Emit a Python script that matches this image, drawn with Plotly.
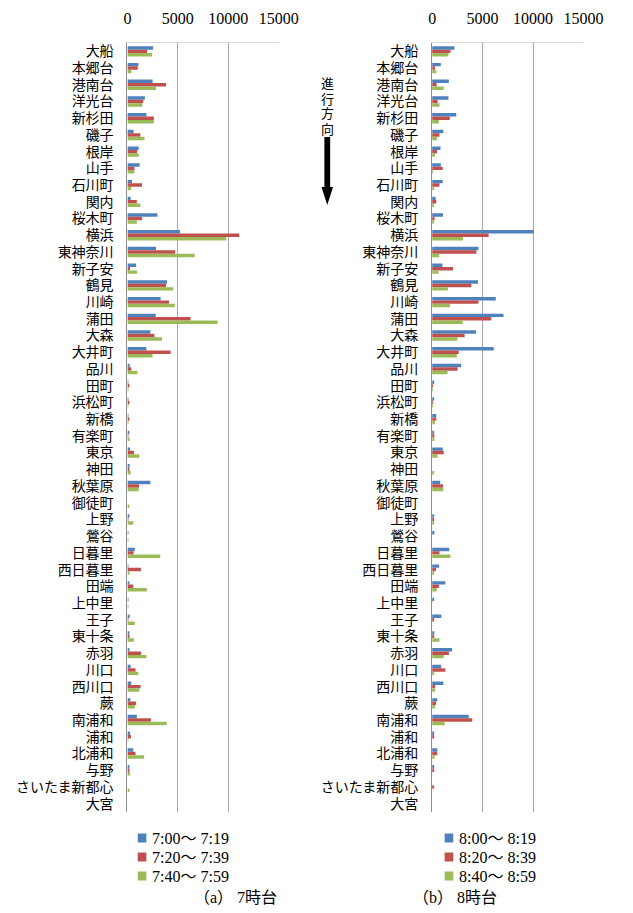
import plotly.graph_objects as go

W, H = 633, 913

stations = ["大船", "本郷台", "港南台", "洋光台", "新杉田", "磯子", "根岸", "山手", "石川町", "関内",
            "桜木町", "横浜", "東神奈川", "新子安", "鶴見", "川崎", "蒲田", "大森", "大井町", "品川",
            "田町", "浜松町", "新橋", "有楽町", "東京", "神田", "秋葉原", "御徒町", "上野", "鶯谷",
            "日暮里", "西日暮里", "田端", "上中里", "王子", "東十条", "赤羽", "川口", "西川口", "蕨",
            "南浦和", "浦和", "北浦和", "与野", "さいたま新都心", "大宮"]

# 7時台
h7_00 = [2550, 1090, 2490, 1730, 1880, 610, 1120, 1210, 450, 320,
         2970, 5210, 2840, 860, 3930, 3290, 2810, 2270, 1880, 220,
         30, 20, 20, 100, 260, 220, 2270, 0, 100, 20,
         730, 60, 160, 20, 220, 160, 160, 320, 380, 290,
         930, 260, 580, 190, 0, 0]
h7_20 = [1950, 1020, 3830, 1570, 2620, 1280, 960, 700, 1440, 930,
         1440, 11090, 4730, 260, 3830, 4120, 6260, 2680, 4280, 380,
         120, 190, 130, 20, 640, 100, 1150, 0, 20, 0,
         610, 1340, 580, 0, 60, 100, 1340, 800, 1310, 860,
         2330, 350, 800, 160, 0, 0]
h7_40 = [2450, 380, 2840, 1470, 2620, 1690, 1120, 700, 380, 1280,
         930, 9810, 6680, 960, 4540, 4700, 8950, 3420, 2490, 990,
         40, 20, 60, 220, 1180, 320, 1120, 100, 580, 60,
         3260, 220, 1920, 20, 730, 640, 1880, 1090, 1180, 730,
         3900, 60, 1660, 260, 130, 0]

# 8時台
h8_00 = [2200, 860, 1660, 1620, 2390, 1110, 830, 860, 1050, 350,
         1080, 10060, 4590, 1020, 4550, 6310, 7070, 4360, 6110, 2870,
         100, 100, 410, 130, 1050, 0, 800, 0, 100, 220,
         1690, 700, 1310, 130, 920, 220, 1970, 890, 1110, 510,
         3630, 160, 510, 160, 0, 0]
h8_20 = [1820, 290, 450, 540, 1750, 730, 480, 1050, 730, 410,
         250, 5600, 4390, 2070, 3890, 4590, 5860, 3220, 2640, 2520,
         20, 20, 410, 220, 1150, 0, 1080, 0, 160, 0,
         730, 380, 670, 0, 100, 100, 1660, 1310, 290, 380,
         3980, 130, 510, 130, 130, 0]
h8_40 = [1620, 410, 1150, 730, 670, 480, 290, 60, 190, 130,
         100, 3060, 700, 640, 1560, 1780, 3030, 2520, 2450, 1530,
         20, 20, 290, 220, 540, 100, 1110, 0, 130, 0,
         1820, 160, 450, 0, 0, 730, 1150, 100, 290, 290,
         1240, 0, 250, 0, 0, 0]

names7 = ["7:00～ 7:19", "7:20～ 7:39", "7:40～ 7:59"]
names8 = ["8:00～ 8:19", "8:20～ 8:39", "8:40～ 8:59"]
captions = ["（a） 7時台", "（b） 8時台"]
colors = ["#4F81BD", "#C0504D", "#9BBB59"]

FONT = "Liberation Serif, Noto Sans CJK JP, serif"


def px(x):
    return x / W


def py(y):
    return 1 - y / H


fig = go.Figure()
for vals, nm, c in zip([h7_00, h7_20, h7_40], names7, colors):
    fig.add_trace(go.Bar(x=vals, y=stations, orientation="h", name=nm, marker_color=c,
                         marker_line_width=0, xaxis="x", yaxis="y", showlegend=False))
for vals, nm, c in zip([h8_00, h8_20, h8_40], names8, colors):
    fig.add_trace(go.Bar(x=vals, y=stations, orientation="h", name=nm, marker_color=c,
                         marker_line_width=0, xaxis="x2", yaxis="y2", showlegend=False))

top, bot = 43, 812
xcommon = dict(range=[0, 15000], tickmode="linear", tick0=0, dtick=5000, tickformat="d",
               side="top", showgrid=True, gridcolor="#A6A6A6",
               gridwidth=1, showline=True, linecolor="#D9D9D9", linewidth=1, zeroline=False,
               ticks="", ticklabelstandoff=12, tickfont=dict(family=FONT, size=16, color="#000"),
               fixedrange=True)
ycommon = dict(autorange="reversed", type="category", tickmode="array", tickvals=stations,
               ticktext=stations, showline=True, linecolor="#8C8C8C",
               linewidth=1, ticks="", ticklabelstandoff=10, showgrid=False,
               tickfont=dict(family=FONT, size=14, color="#000"))

fig.update_layout(
    width=W, height=H, margin=dict(l=0, r=0, t=0, b=0),
    paper_bgcolor="white", plot_bgcolor="white",
    barmode="group", bargap=0.38, bargroupgap=0,
    xaxis=dict(domain=[px(128.3), px(285.5)], anchor="y", **xcommon),
    yaxis=dict(domain=[py(bot), py(top)], anchor="x", **ycommon),
    xaxis2=dict(domain=[px(445), px(602.3)], anchor="y2", **xcommon),
    yaxis2=dict(domain=[py(bot), py(top)], anchor="x2", **ycommon),
    showlegend=False,
)

# legends (colour keys with series names) and captions under each panel
for names, sq_x, cap_x, cap in [(names7, 139, 195, captions[0]), (names8, 458, 514, captions[1])]:
    for i, (nm, c) in enumerate(zip(names, colors)):
        yc = 838 + 19 * i
        fig.add_shape(type="rect", xref="paper", yref="paper",
                      x0=px(sq_x), x1=px(sq_x + 9), y0=py(yc + 4.5), y1=py(yc - 4.5),
                      fillcolor=c, line_width=0)
        fig.add_annotation(text=nm, x=px(sq_x + 13), y=py(yc), xref="paper", yref="paper",
                           xanchor="left", yanchor="middle", showarrow=False,
                           font=dict(family=FONT, size=16, color="#000"))
    fig.add_annotation(text=cap, x=px(cap_x), y=py(897), xref="paper", yref="paper",
                       yanchor="middle", showarrow=False,
                       font=dict(family=FONT, size=16, color="#000"))

# direction label (vertical text) and arrow
for i, ch in enumerate("進行方向"):
    fig.add_annotation(text=ch, x=px(336), y=py(84 + 15 * i), xref="paper", yref="paper",
                       yanchor="middle", showarrow=False,
                       font=dict(family=FONT, size=13, color="#000"))
fig.add_shape(type="rect", xref="paper", yref="paper", x0=px(333), x1=px(339),
              y0=py(188), y1=py(137), fillcolor="black", line_width=0)
fig.add_shape(type="path", xref="paper", yref="paper",
              path=f"M {px(330)} {py(187)} L {px(342)} {py(187)} L {px(336)} {py(205)} Z",
              fillcolor="black", line_width=0)

fig.write_html("out.html")
